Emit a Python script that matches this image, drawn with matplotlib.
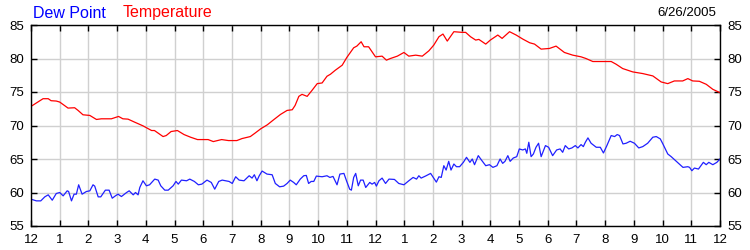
import matplotlib
matplotlib.use("Agg")
import matplotlib.pyplot as plt

# hours since midnight
temp_hours = [0.0, 0.42, 0.6, 0.7, 0.88, 1.0, 1.29, 1.52, 1.64, 1.81, 2.05, 2.28, 2.45, 2.8,
              3.05, 3.2, 3.38, 3.61, 3.9, 4.2, 4.3, 4.6, 4.71, 4.88, 5.1, 5.33, 5.56, 5.8,
              6.17, 6.35, 6.64, 6.88, 7.17, 7.35, 7.64, 7.8, 8.0, 8.23, 8.45, 8.69, 8.92,
              9.1, 9.2, 9.33, 9.44, 9.62, 9.79, 9.97, 10.14, 10.31, 10.43, 10.6, 10.84,
              11.0, 11.24, 11.35, 11.5, 11.6, 11.76, 12.0, 12.23, 12.38, 12.52, 12.76,
              12.99, 13.16, 13.4, 13.63, 13.86, 14.03, 14.21, 14.35, 14.5, 14.73, 15.02,
              15.14, 15.31, 15.49, 15.6, 15.84, 16.0, 16.26, 16.41, 16.67, 16.9, 17.13,
              17.37, 17.54, 17.77, 18.06, 18.29, 18.58, 18.87, 19.16, 19.33, 19.57, 20.21,
              20.38, 20.61, 20.96, 21.31, 21.66, 21.95, 22.18, 22.41, 22.7, 22.88, 23.05,
              23.28, 23.52, 23.75, 24.0]
temperature = [72.85, 74.0, 74.0, 73.7, 73.65, 73.5, 72.6, 72.65, 72.25, 71.6, 71.5, 70.9,
               71.0, 71.0, 71.35, 71.0, 70.95, 70.5, 69.95, 69.25, 69.25, 68.35, 68.5, 69.1,
               69.25, 68.65, 68.25, 67.9, 67.9, 67.6, 67.9, 67.75, 67.75, 68.05, 68.35, 68.85,
               69.5, 70.1, 70.85, 71.65, 72.25, 72.35, 73.0, 74.35, 74.65, 74.35, 75.25, 76.25,
               76.35, 77.35, 77.65, 78.25, 79.0, 80.15, 81.6, 81.85, 82.5, 81.75, 81.75, 80.25,
               80.35, 79.75, 80.0, 80.35, 80.9, 80.35, 80.5, 80.35, 81.15, 82.0, 83.25, 83.65,
               82.6, 84.0, 83.9, 83.9, 83.25, 82.75, 82.85, 82.15, 82.75, 83.5, 83.0, 84.0,
               83.5, 82.9, 82.35, 82.15, 81.4, 81.5, 81.85, 80.9, 80.5, 80.25, 80.0, 79.55,
               79.55, 79.15, 78.5, 78.0, 77.75, 77.4, 76.5, 76.25, 76.65, 76.65, 77.0, 76.65,
               76.6, 76.15, 75.4, 74.9]

dew_hours = [0.0, 0.19, 0.34, 0.48, 0.6, 0.74, 0.88, 1.0, 1.12, 1.26, 1.31, 1.41, 1.5, 1.58,
             1.66, 1.78, 1.93, 2.05, 2.16, 2.22, 2.34, 2.43, 2.59, 2.72, 2.83, 2.94, 3.03,
             3.15, 3.33, 3.42, 3.56, 3.64, 3.73, 3.79, 3.9, 4.02, 4.13, 4.31, 4.43, 4.52,
             4.66, 4.78, 4.95, 5.05, 5.13, 5.24, 5.42, 5.53, 5.69, 5.83, 5.95, 6.13, 6.28,
             6.4, 6.54, 6.66, 6.9, 7.01, 7.13, 7.25, 7.42, 7.6, 7.7, 7.78, 7.87, 7.95, 8.05,
             8.22, 8.4, 8.51, 8.66, 8.8, 8.92, 9.03, 9.15, 9.24, 9.38, 9.5, 9.59, 9.67, 9.76,
             9.85, 9.94, 10.14, 10.31, 10.41, 10.52, 10.66, 10.76, 10.9, 10.99, 11.1, 11.16,
             11.24, 11.31, 11.4, 11.48, 11.57, 11.66, 11.8, 11.88, 11.97, 12.03, 12.12, 12.23,
             12.35, 12.47, 12.66, 12.81, 12.99, 13.16, 13.31, 13.43, 13.51, 13.59, 13.74,
             13.92, 14.03, 14.12, 14.21, 14.29, 14.38, 14.46, 14.55, 14.63, 14.73, 14.82,
             14.93, 15.06, 15.17, 15.29, 15.37, 15.45, 15.58, 15.69, 15.84, 15.97, 16.09,
             16.23, 16.34, 16.43, 16.51, 16.61, 16.69, 16.8, 16.92, 17.01, 17.13, 17.22,
             17.27, 17.34, 17.42, 17.5, 17.59, 17.68, 17.77, 17.92, 18.03, 18.17, 18.31,
             18.43, 18.52, 18.61, 18.73, 18.84, 18.96, 19.05, 19.16, 19.24, 19.31, 19.4,
             19.51, 19.69, 19.83, 19.94, 20.06, 20.21, 20.33, 20.42, 20.5, 20.62, 20.73,
             20.87, 21.02, 21.17, 21.31, 21.48, 21.66, 21.78, 21.92, 22.01, 22.18, 22.3,
             22.48, 22.71, 22.88, 22.94, 23.02, 23.11, 23.25, 23.42, 23.52, 23.61, 23.75,
             23.89, 24.0]
dew_point = [59.0, 58.75, 58.75, 59.35, 59.65, 58.85, 59.85, 60.0, 59.5, 60.25, 60.15, 58.75,
             59.75, 59.75, 61.15, 59.75, 60.15, 60.25, 61.15, 60.95, 59.35, 59.35, 60.35,
             60.35, 59.15, 59.5, 59.75, 59.4, 60.0, 60.25, 59.65, 60.0, 59.65, 60.75, 61.75,
             61.0, 61.15, 62.0, 61.85, 61.0, 60.35, 60.35, 61.0, 61.65, 61.25, 61.85, 61.75,
             62.0, 61.65, 61.15, 61.25, 61.85, 61.5, 60.5, 61.65, 61.85, 61.65, 61.35, 62.35,
             61.85, 61.75, 62.5, 62.15, 62.65, 61.75, 62.5, 63.2, 62.75, 62.65, 61.35, 60.85,
             60.95, 61.35, 61.85, 61.5, 61.15, 62.0, 62.5, 62.55, 61.35, 61.65, 61.65, 62.45,
             62.35, 62.5, 62.25, 62.4, 61.15, 62.75, 62.85, 61.75, 60.5, 60.35, 62.25, 62.85,
             61.0, 61.85, 61.85, 60.75, 61.5, 61.25, 61.5, 60.95, 61.75, 62.15, 61.35, 62.0,
             61.95, 61.35, 61.15, 61.75, 62.25, 62.0, 62.5, 62.15, 62.45, 62.85, 62.15, 61.55,
             62.35, 62.25, 64.0, 63.35, 64.65, 63.35, 64.25, 63.85, 63.85, 64.5, 65.25, 64.5,
             65.0, 64.15, 65.5, 64.85, 64.0, 64.15, 63.75, 64.0, 65.0, 64.35, 64.65, 65.5,
             64.65, 65.15, 65.35, 66.5, 66.35, 66.5, 65.85, 67.5, 65.35, 65.75, 66.75, 67.35,
             65.35, 67.0, 66.75, 65.5, 66.35, 66.5, 66.0, 67.0, 66.5, 66.65, 67.0, 66.65,
             67.15, 66.85, 67.5, 68.15, 67.35, 66.75, 66.75, 65.9, 67.0, 68.5, 68.35, 68.65,
             68.5, 67.25, 67.35, 67.65, 67.35, 66.65, 66.85, 67.35, 68.25, 68.35, 68.0, 67.25,
             65.75, 65.35, 64.65, 63.75, 63.85, 63.75, 63.25, 63.65, 63.5, 64.5, 64.15, 64.5,
             64.15, 64.5, 65.0]

hour_labels = ["12", "1", "2", "3", "4", "5", "6", "7", "8", "9", "10", "11",
               "12", "1", "2", "3", "4", "5", "6", "7", "8", "9", "10", "11", "12"]
y_ticks = [55, 60, 65, 70, 75, 80, 85]
date_text = "6/26/2005"

plt.rcParams['font.family'] = ['Liberation Sans', 'DejaVu Sans']

fig = plt.figure(figsize=(7.5, 2.5), dpi=100)
ax = fig.add_axes([31 / 750, 24 / 250, 689 / 750, 201 / 250])

ax.plot(temp_hours, temperature, color='#ff0000', lw=0.9)
ax.plot(dew_hours, dew_point, color='#2020ff', lw=0.9)

ax.set_xlim(0, 24)
ax.set_ylim(55, 85)
ax.set_xticks(range(25))
ax.set_xticklabels(hour_labels)
ax.set_yticks(y_ticks)
ax.grid(True, color='#d0d0d0', lw=1)
ax.set_axisbelow(True)

ax.tick_params(axis='both', direction='in', length=4, width=1, labelsize=9.5,
               top=True, right=True, labelright=True)
ax.tick_params(axis='x', pad=6)
ax.tick_params(axis='y', pad=5)
for s in ax.spines.values():
    s.set_linewidth(1)

fig.text(33 / 750, 1 - 13 / 250, "Dew Point", color='#0000ff', fontsize=11.5, va='center')
fig.text(123 / 750, 1 - 13 / 250, "Temperature", color='#ff0000', fontsize=11.5, va='center')
fig.text(716 / 750, 1 - 13 / 250, date_text, color='black', fontsize=9.5, va='center', ha='right')

fig.savefig("out.png", dpi=100)
